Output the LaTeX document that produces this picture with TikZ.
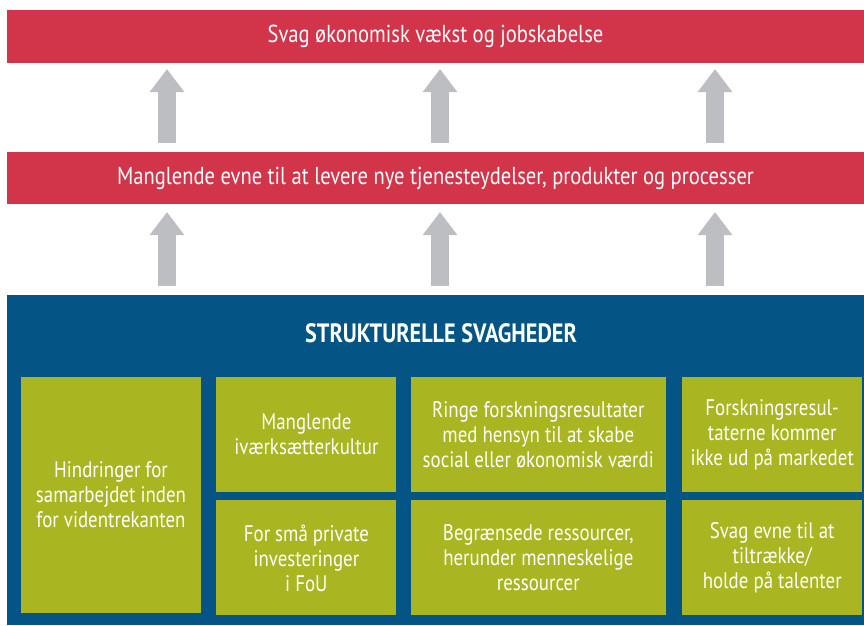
\documentclass[tikz,border=0pt]{standalone}
\usepackage{fontspec}
\setmainfont{PT Sans}[FakeStretch=0.84]
\usetikzlibrary{arrows.meta}
\usetikzlibrary{positioning}

\definecolor{barRed}{RGB}{210,52,73}
\definecolor{panelBlue}{RGB}{4,84,134}
\definecolor{boxGreen}{RGB}{169,181,33}
\definecolor{arrowGray}{RGB}{188,190,193}

\begin{document}
\begin{tikzpicture}
  [x=1pt,y=-1pt,
   barBox/.style={rectangle,fill=barRed,text=white,minimum width=857pt,minimum height=53pt,inner sep=0pt,font=\fontsize{24.5}{28}\selectfont},
   weakBox/.style={rectangle,fill=boxGreen,text=white,align=center,inner sep=0pt,minimum width=180pt,minimum height=115pt,font=\fontsize{22.5}{25}\selectfont},
   upArrow/.style={draw=arrowGray,line width=18pt,-{Triangle[width=35pt,length=23pt,line width=0pt]}}]
  \useasboundingbox (0,0) rectangle (864,625);
  % result bars
  \node[barBox] (growth) at (435.5,36.5) {Svag økonomisk vækst og jobskabelse};
  \node[barBox,minimum height=52pt] (capacity) at (435.5,178) {Manglende evne til at levere nye tjenesteydelser, produkter og processer};
  % structural panel
  \node[rectangle,fill=panelBlue,minimum width=857pt,minimum height=330pt,inner sep=0pt] (panel) at (435.5,460) {};
  \node[text=white,font=\bfseries\fontsize{26.5}{30}\selectfont] (panelTitle) at (441,333) {STRUKTURELLE SVAGHEDER};
  \node[weakBox,minimum height=236pt] (cooperation) at (111,495) {Hindringer for\\samarbejdet inden\\for videntrekanten};
  \node[weakBox] (culture) [right=15pt of cooperation.north east,anchor=north west] {Manglende\\iværksætterkultur};
  \node[weakBox] (investment) [below=8pt of culture] {For små private\\investeringer\\i FoU};
  \node[weakBox,minimum width=255pt] (research) [right=14pt of culture] {Ringe forskningsresultater\\med hensyn til at skabe\\social eller økonomisk værdi};
  \node[weakBox,minimum width=255pt] (resources) [below=8pt of research] {Begrænsede ressourcer,\\herunder menneskelige\\ressourcer};
  \node[weakBox] (market) [right=16pt of research] {Forskningsresul-\\taterne kommer\\ikke ud på markedet};
  \node[weakBox] (talent) [below=8pt of market] {Svag evne til at\\tiltrække/\\holde på talenter};
  % arrows
  \foreach \dx in {-268.5,4.5,279.5} {
    \draw[upArrow,shorten <=9pt,shorten >=6pt] ([xshift=\dx pt]capacity.north) -- ([xshift=\dx pt]growth.south);
    \draw[upArrow,shorten <=9pt,shorten >=8pt] ([xshift=\dx pt]panel.north) -- ([xshift=\dx pt]capacity.south);
  }
\end{tikzpicture}
\end{document}
